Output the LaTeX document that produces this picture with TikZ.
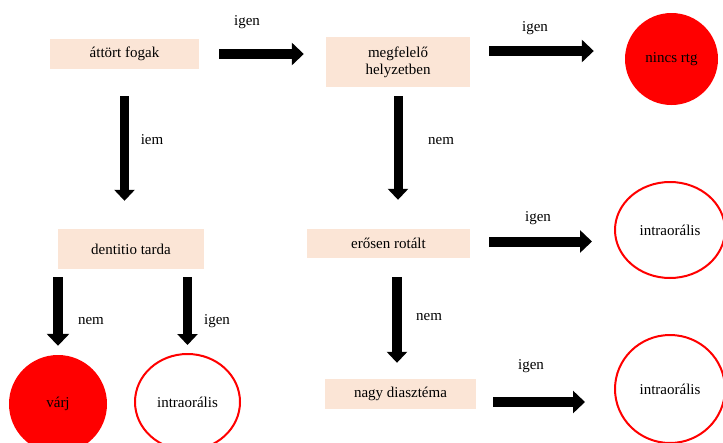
\documentclass[tikz,border=0pt]{standalone}
\usepackage{fontspec}
\setmainfont{Liberation Serif}
\usetikzlibrary{arrows.meta,shapes.geometric}
\definecolor{peach}{HTML}{FBE5D6}
\tikzset{
  txt/.style={font=\fontsize{15}{17}\selectfont},
  box/.style={txt, fill=peach, inner sep=0pt, align=center},
  lbl/.style={txt, inner sep=0pt},
  harrow/.style={line width=10pt, -{Triangle[length=12pt,width=22pt]}},
  varrow/.style={line width=9pt, -{Triangle[length=11pt,width=20pt]}},
  redfill/.style={txt, ellipse, fill=red, inner sep=0pt},
  redring/.style={txt, ellipse, draw=red, line width=2pt, fill=white, inner sep=0pt}
}
\begin{document}
\begin{tikzpicture}[x=1pt,y=-1pt]
\useasboundingbox (0,0) rectangle (723,442);
\clip (0,0) rectangle (723,442);
\fill[white] (0,0) rectangle (723,442);
% boxes
\node[box, minimum width=149pt, minimum height=30pt] (a) at (124.5,54) {áttört fogak};
\node[box, minimum width=144pt, minimum height=50pt] (b) at (398,62) {megfelelő\\helyzetben};
\node[box, minimum width=146pt, minimum height=40pt] (d) at (131,249) {dentitio tarda};
\node[box, minimum width=163pt, minimum height=29pt] (e) at (388.5,243.5) {erősen rotált};
\node[box, minimum width=151pt, minimum height=30pt] (n) at (400.5,394) {nagy diasztéma};
% circles
\node[redfill, minimum width=93pt, minimum height=92pt] (c1) at (671.5,59) {nincs rtg};
\node[redring, minimum width=110pt, minimum height=96pt] (c2) at (670,230) {intraorális};
\node[redring, minimum width=110pt, minimum height=108pt] (c3) at (670,389) {intraorális};
\node[redfill, minimum width=98pt, minimum height=98pt] (v) at (58,404) {várj};
\node[redring, minimum width=105pt, minimum height=96pt] (i) at (187.5,402) {intraorális};
% arrows
\draw[harrow, shorten <=20pt, shorten >=22pt] (a.east) -- (a.east -| b.west);
\draw[varrow, shorten <=27pt, shorten >=28pt] (a.south) -- (a.south |- d.north);
\draw[harrow, shorten <=19pt, shorten >=31pt] ([yshift=11pt]b.east) -- ([yshift=11pt]b.east -| c1.west);
\draw[varrow, shorten <=9pt, shorten >=29pt] (b.south) -- (b.south |- e.north);
\draw[harrow, shorten <=19pt, shorten >=22pt] ([yshift=2pt]e.east) -- ([yshift=2pt]e.east -| c2.west);
\draw[varrow, line width=10pt, shorten <=19pt, shorten >=16pt] ([xshift=8.5pt]e.south) -- ([xshift=8.5pt]e.south |- n.north);
\draw[harrow, shorten <=17pt, shorten >=29pt] ([yshift=-8pt]n.east) -- ([yshift=-8pt]n.east -| c3.west);
\draw[harrow, shorten <=8pt, shorten >=9pt] (d.south -| v.north) -- (v.north);
\draw[varrow, shorten <=8pt, shorten >=8pt] (d.south -| i.north) -- (i.north);
% labels
\node[lbl] (l1) at (247,22) {igen};
\node[lbl] (l2) at (152,140) {iem};
\node[lbl] (l3) at (535,28) {igen};
\node[lbl] (l4) at (441,141) {nem};
\node[lbl] (l5) at (538,218) {igen};
\node[lbl] (l6) at (429,317) {nem};
\node[lbl] (l7) at (531,366) {igen};
\node[lbl] (l8) at (91,321) {nem};
\node[lbl] (l9) at (217,321) {igen};
\end{tikzpicture}
\end{document}
